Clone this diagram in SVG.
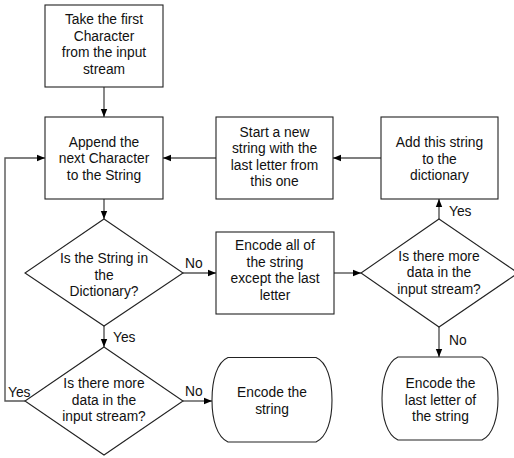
<svg xmlns="http://www.w3.org/2000/svg" width="514" height="458" viewBox="0 0 514 458">
<defs>
<marker id="ah" viewBox="0 0 8 8" refX="8" refY="4" markerWidth="8" markerHeight="8" markerUnits="userSpaceOnUse" orient="auto">
<path d="M0,0.8 L8,4 L0,7.2 Z" fill="#000"/>
</marker>
</defs>
<style>
.shape{fill:#fff;stroke:#222;stroke-width:1.1}
.conn{fill:none;stroke:#555;stroke-width:1.4}
text{font-family:"Liberation Sans",Arial,sans-serif;font-size:13.8px;fill:#111}
.c{text-anchor:middle}
</style>
<rect width="514" height="458" fill="#fff"/>
<g id="connectors">
<path class="conn" d="M104,87 V117" marker-end="url(#ah)"/>
<path class="conn" d="M104,199 V219" marker-end="url(#ah)"/>
<path class="conn" d="M104,326 V347" marker-end="url(#ah)"/>
<path class="conn" d="M183,273 H216" marker-end="url(#ah)"/>
<path class="conn" d="M334,273 H361" marker-end="url(#ah)"/>
<path class="conn" d="M439,219 V199" marker-end="url(#ah)"/>
<path class="conn" d="M439,327 V357" marker-end="url(#ah)"/>
<path class="conn" d="M381,158 H333" marker-end="url(#ah)"/>
<path class="conn" d="M216,158 H163" marker-end="url(#ah)"/>
<path class="conn" d="M183,401 H212" marker-end="url(#ah)"/>
<path class="conn" d="M25,401 H5 V158 H45" marker-end="url(#ah)"/>
<text x="113" y="342">Yes</text>
<text x="185" y="268">No</text>
<text x="185" y="396">No</text>
<text x="8" y="397">Yes</text>
<text x="449" y="216">Yes</text>
<text x="449" y="345">No</text>
</g>
<g id="take-first">
<rect class="shape" x="45" y="5" width="118" height="82"/>
<text class="c" x="104" y="24">Take the first</text>
<text class="c" x="104" y="40.5">Character</text>
<text class="c" x="104" y="57">from the input</text>
<text class="c" x="104" y="73.5">stream</text>
</g>
<g id="append">
<rect class="shape" x="45" y="117" width="118" height="82"/>
<text class="c" x="104" y="146.5">Append the</text>
<text class="c" x="104" y="163">next Character</text>
<text class="c" x="104" y="179.5">to the String</text>
</g>
<g id="start-new">
<rect class="shape" x="216" y="117" width="117" height="82"/>
<text class="c" x="274.5" y="136.5">Start a new</text>
<text class="c" x="274.5" y="153">string with the</text>
<text class="c" x="274.5" y="169.5">last letter from</text>
<text class="c" x="274.5" y="186">this one</text>
</g>
<g id="add-dict">
<rect class="shape" x="381" y="117" width="117" height="82"/>
<text class="c" x="439.5" y="147">Add this string</text>
<text class="c" x="439.5" y="163.5">to the</text>
<text class="c" x="439.5" y="180">dictionary</text>
</g>
<g id="in-dict">
<polygon class="shape" points="104,219 183,273 104,326 25,273"/>
<text class="c" x="104" y="263">Is the String in</text>
<text class="c" x="104" y="279.5">the</text>
<text class="c" x="104" y="296">Dictionary?</text>
</g>
<g id="encode-all">
<rect class="shape" x="216" y="232" width="118" height="82"/>
<text class="c" x="275" y="250">Encode all of</text>
<text class="c" x="275" y="266.5">the string</text>
<text class="c" x="275" y="283">except the last</text>
<text class="c" x="275" y="299.5">letter</text>
</g>
<g id="more-data-right">
<polygon class="shape" points="439,219 518,273 439,327 361,273"/>
<text class="c" x="439" y="260.5">Is there more</text>
<text class="c" x="439" y="277">data in the</text>
<text class="c" x="439" y="293.5">input stream?</text>
</g>
<g id="more-data-left">
<polygon class="shape" points="104,347 183,401 104,455 25,401"/>
<text class="c" x="104" y="388">Is there more</text>
<text class="c" x="104" y="404.5">data in the</text>
<text class="c" x="104" y="421">input stream?</text>
</g>
<g id="encode-string">
<path class="shape" d="M228,357.5 H316 C327,362 332,380 332,400 C332,420 327,437 316,442 H228 C217,437 212,420 212,400 C212,380 217,362 228,357.5 Z"/>
<text class="c" x="272" y="397">Encode the</text>
<text class="c" x="272" y="413.5">string</text>
</g>
<g id="encode-last">
<path class="shape" d="M398,357 H482 C493,362 498,380 498,398.5 C498,417 493,435 482,440 H398 C387,435 382,417 382,398.5 C382,380 387,362 398,357 Z"/>
<text class="c" x="440.5" y="388">Encode the</text>
<text class="c" x="440.5" y="404.5">last letter of</text>
<text class="c" x="440.5" y="421">the string</text>
</g>
</svg>
